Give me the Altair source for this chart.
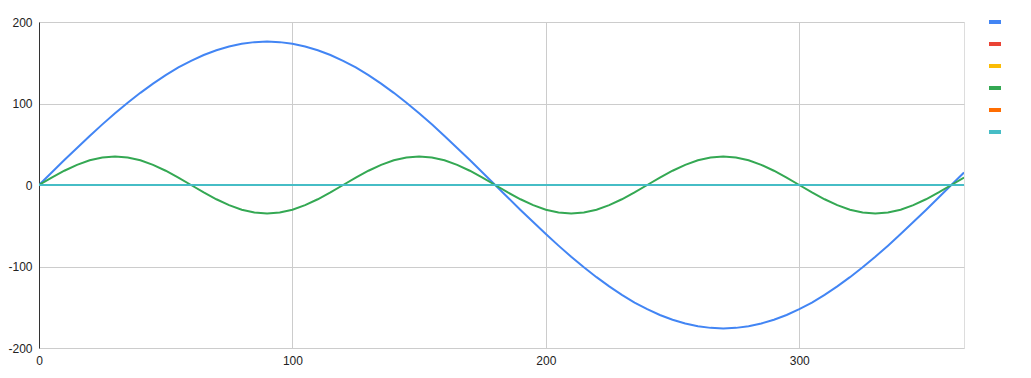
import altair as alt
import pandas as pd

x_vals = list(range(0, 366, 5))

blue = [0, 15.3, 30.6, 45.5, 60.2, 74.4, 88, 101, 113.1, 124.4, 134.8, 144.2, 152.4, 159.5, 165.4, 170, 173.3, 175.3,
        176, 175.3, 173.3, 170, 165.4, 159.5, 152.4, 144.2, 134.8, 124.4, 113.1, 101, 88, 74.4, 60.2, 45.5, 30.6, 15.3,
        0, -15.3, -30.6, -45.5, -60.2, -74.4, -88, -101, -113.1, -124.4, -134.8, -144.2, -152.4, -159.5, -165.4, -170, -173.3, -175.3,
        -176, -175.3, -173.3, -170, -165.4, -159.5, -152.4, -144.2, -134.8, -124.4, -113.1, -101, -88, -74.4, -60.2, -45.5, -30.6, -15.3,
        0, 15.3]

green_period = [0, 9.1, 17.5, 24.7, 30.3, 33.8, 35, 33.8, 30.3, 24.7, 17.5, 9.1,
                0, -9.1, -17.5, -24.7, -30.3, -33.8, -35, -33.8, -30.3, -24.7, -17.5, -9.1]
green = (green_period * 4)[:len(x_vals)]

red = [0] * len(x_vals)
yellow = [0] * len(x_vals)
orange = [0] * len(x_vals)
teal = [0] * len(x_vals)

series_names = ["s1", "s2", "s3", "s4", "s5", "s6"]
series_colors = ["#4285F4", "#EA4335", "#FBBC04", "#34A853", "#FF6D01", "#46BDC6"]
series_values = [blue, red, yellow, green, orange, teal]

rows = []
for name, vals in zip(series_names, series_values):
    for xv, yv in zip(x_vals, vals):
        rows.append({"x": xv, "y": yv, "series": name})
df = pd.DataFrame(rows)

chart = alt.Chart(df).mark_line(strokeWidth=2, clip=True).encode(
    x=alt.X("x:Q", scale=alt.Scale(domain=[0, 365], nice=False, zero=False),
            axis=alt.Axis(values=[0, 100, 200, 300], title=None, ticks=False, domain=False,
                          labelFont="Liberation Sans", labelFontSize=12, labelColor="#222222",
                          labelPadding=7, gridColor="#cccccc", labelFlush=False,
                          labelExpr="'' + datum.value")),
    y=alt.Y("y:Q", scale=alt.Scale(domain=[-200, 200], nice=False),
            axis=alt.Axis(values=[-200, -100, 0, 100, 200], title=None, ticks=False,
                          domain=True, domainColor="#333333",
                          labelFont="Liberation Sans", labelFontSize=12, labelColor="#222222",
                          labelPadding=7, gridColor="#cccccc",
                          labelExpr="'' + datum.value")),
    color=alt.Color("series:N", scale=alt.Scale(domain=series_names, range=series_colors),
                    legend=alt.Legend(title=None, orient="none", legendX=948, legendY=-8,
                                      symbolType="stroke", symbolStrokeWidth=4, symbolSize=144,
                                      labelExpr="''", labelFontSize=12, rowPadding=6,
                                      symbolOffset=0)),
    order=alt.Order("series:N"),
).properties(
    width=925, height=326,
    autosize=alt.AutoSizeParams(type="none"),
    padding={"left": 39, "top": 22, "right": 67, "bottom": 30},
).configure_view(stroke=None).configure(background="white")

chart.save("out.html", embed_options={"renderer": "svg", "actions": False})
